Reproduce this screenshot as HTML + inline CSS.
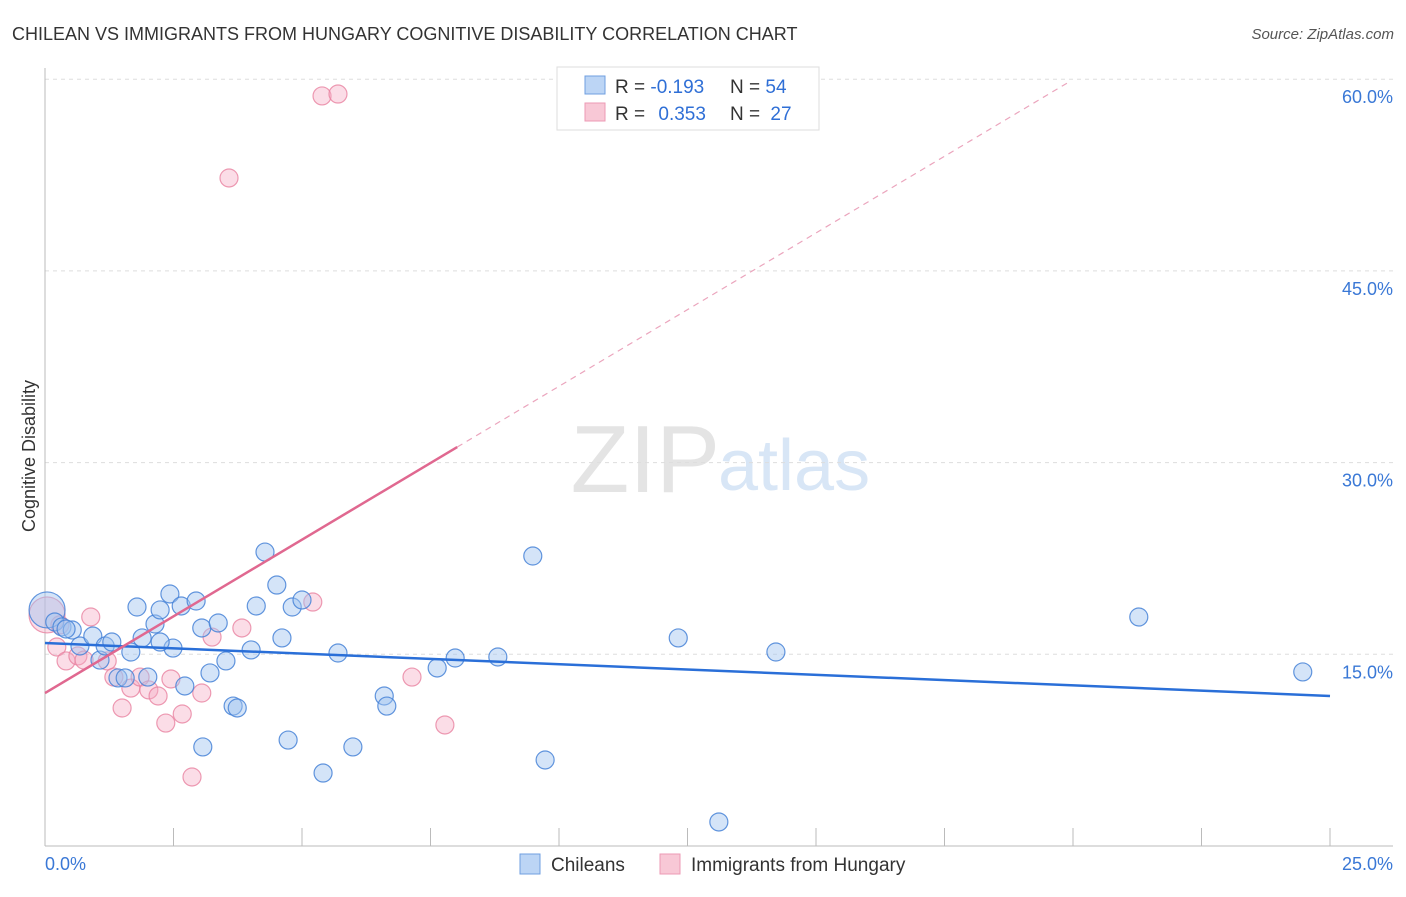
<!DOCTYPE html>
<html><head><meta charset="utf-8"><style>
body{margin:0;background:#fff;font-family:"Liberation Sans",sans-serif}
svg text{font-family:"Liberation Sans",sans-serif}
</style></head><body>
<svg id="chart" width="1406" height="892">
<text x="12" y="40" font-size="18" fill="#333">CHILEAN VS IMMIGRANTS FROM HUNGARY COGNITIVE DISABILITY CORRELATION CHART</text>
<text x="1394" y="39" font-size="15" fill="#555" font-style="italic" text-anchor="end">Source: ZipAtlas.com</text>
<text x="720" y="492" font-size="96" fill="#e4e4e4" text-anchor="end" font-family="Liberation Serif">ZIP</text>
<text x="718" y="490" font-size="72" fill="#d8e6f6">atlas</text>
<g id="grid"></g><g id="axes"></g><g id="marks"></g>
<text x="35" y="456" font-size="18" fill="#333" transform="rotate(-90 35 456)" text-anchor="middle">Cognitive Disability</text>
<text x="45" y="870" font-size="18" fill="#3a78d6">0.0%</text>
<text x="1393" y="870" font-size="18" fill="#3a78d6" text-anchor="end">25.0%</text>
<g>
<rect x="557" y="67" width="262" height="63" fill="#fff" stroke="#ddd"/>
<rect x="585" y="76" width="20" height="18" fill="#bcd5f5" stroke="#6f9fe0"/>
<rect x="585" y="103" width="20" height="18" fill="#f8c8d6" stroke="#ec9ab4"/>
<text x="615" y="93" font-size="19" fill="#333">R = <tspan fill="#2f6fd6">-0.193</tspan><tspan x="730">N = </tspan><tspan fill="#2f6fd6">54</tspan></text>
<text x="615" y="120" font-size="19" fill="#333">R = <tspan fill="#2f6fd6" dx="8">0.353</tspan><tspan x="730">N = </tspan><tspan fill="#2f6fd6" dx="5">27</tspan></text>
</g>
<g>
<rect x="520" y="854" width="20" height="20" fill="#bcd5f5" stroke="#6f9fe0"/>
<text x="551" y="871" font-size="19" fill="#333">Chileans</text>
<text x="691" y="871" font-size="19" fill="#333">Immigrants from Hungary</text>
<rect x="660" y="854" width="20" height="20" fill="#f8c8d6" stroke="#ec9ab4"/>
</g>
</svg>
<script>
const yTicks=[15,30,45,60];
const yTickLabels=["15.0%","30.0%","45.0%","60.0%"];
const xTicks=[0,2.5,5,7.5,10,12.5,15,17.5,20,22.5,25];
const blueX=[0.04,0.19,0.33,0.53,0.68,0.93,1.07,1.17,1.3,1.42,1.56,1.67,1.79,1.89,2.0,2.14,2.24,2.43,2.49,2.65,2.72,2.94,3.05,3.07,3.21,3.37,3.52,3.66,3.74,4.01,4.11,4.28,4.51,4.61,4.73,4.81,5.0,5.41,5.7,5.99,6.6,6.65,7.63,7.98,8.81,9.49,9.73,12.32,13.11,14.22,21.28,24.47,0.41,2.24];
const blueY=[18.47,17.53,17.14,16.9,15.65,16.43,14.55,15.65,15.96,13.15,13.15,15.18,18.7,16.28,13.22,17.37,18.47,19.72,15.49,18.78,12.52,19.17,17.06,7.75,13.54,17.45,14.48,10.95,10.8,15.34,18.78,23.0,20.42,16.28,8.29,18.7,19.25,5.71,15.1,7.75,11.74,10.95,13.93,14.71,14.79,22.69,6.73,16.28,1.88,15.18,17.92,13.62,16.98,15.96];
const pinkX=[0.04,0.23,0.41,0.64,0.76,0.89,1.21,1.34,1.5,1.67,1.85,2.02,2.2,2.35,2.45,2.67,2.86,3.05,3.25,3.58,3.83,5.21,5.39,5.7,7.14,7.78,0.29];
const pinkY=[18.08,15.57,14.48,14.87,14.55,17.92,14.48,13.22,10.8,12.36,13.22,12.21,11.74,9.62,13.07,10.33,5.4,11.97,16.35,52.27,17.06,19.09,58.69,58.84,13.22,9.47,17.3];
const blueTrend=[15.88,11.74];
const pinkTrend=[11.97,2.4];
const NS="http://www.w3.org/2000/svg";
const xs=v=>45+v/25*1285, ys=v=>846-v*12.78;
function mk(tag,attrs,parent){const e=document.createElementNS(NS,tag);for(const k in attrs)e.setAttribute(k,attrs[k]);document.getElementById(parent).appendChild(e);return e;}
yTicks.forEach((t,i)=>{
 const l=mk('line',{x1:45,x2:1393,y1:ys(t),y2:ys(t),stroke:'#ddd','stroke-dasharray':'4,4'},'grid');
 
 
 const tx=mk('text',{x:1393,y:ys(t)+24,'font-size':18,fill:'#3a78d6','text-anchor':'end'},'grid');
 tx.textContent=yTickLabels[i];
 
 
});
const ax=mk('line',{x1:45,x2:1393,y1:846,y2:846,stroke:'#bbb'},'axes');


const ay=mk('line',{x1:45,x2:45,y1:68,y2:846,stroke:'#bbb'},'axes');


xTicks.forEach(t=>{
 const l=mk('line',{x1:xs(t),x2:xs(t),y1:828,y2:846,stroke:'#bbb'},'axes');
 
 
});
pinkX.forEach((x,i)=>{
 const c=mk('circle',{cx:xs(x),cy:ys(pinkY[i]),r:i==0?18:9,fill:'rgba(246,170,194,0.4)',stroke:'rgba(232,130,160,0.8)','stroke-width':1.2},'marks');
 
 
});
blueX.forEach((x,i)=>{
 const c=mk('circle',{cx:xs(x),cy:ys(blueY[i]),r:i==0?18:9,fill:'rgba(160,195,240,0.45)',stroke:'rgba(70,130,215,0.85)','stroke-width':1.2},'marks');
 
 
});
const bt=mk('line',{x1:xs(0),y1:ys(blueTrend[0]),x2:xs(25),y2:ys(blueTrend[1]),stroke:'#2a6fd8','stroke-width':2.5},'marks');


const pe=8.02, pd=19.9;
const pt=mk('line',{x1:xs(0),y1:ys(pinkTrend[0]),x2:xs(pe),y2:ys(pinkTrend[0]+pinkTrend[1]*pe),stroke:'#e06890','stroke-width':2.5},'marks');


const pdl=mk('line',{x1:xs(pe),y1:ys(pinkTrend[0]+pinkTrend[1]*pe),x2:xs(pd),y2:ys(pinkTrend[0]+pinkTrend[1]*pd),stroke:'#eba5bd','stroke-width':1.2,'stroke-dasharray':'6,5'},'marks');


</script>
</body></html>
